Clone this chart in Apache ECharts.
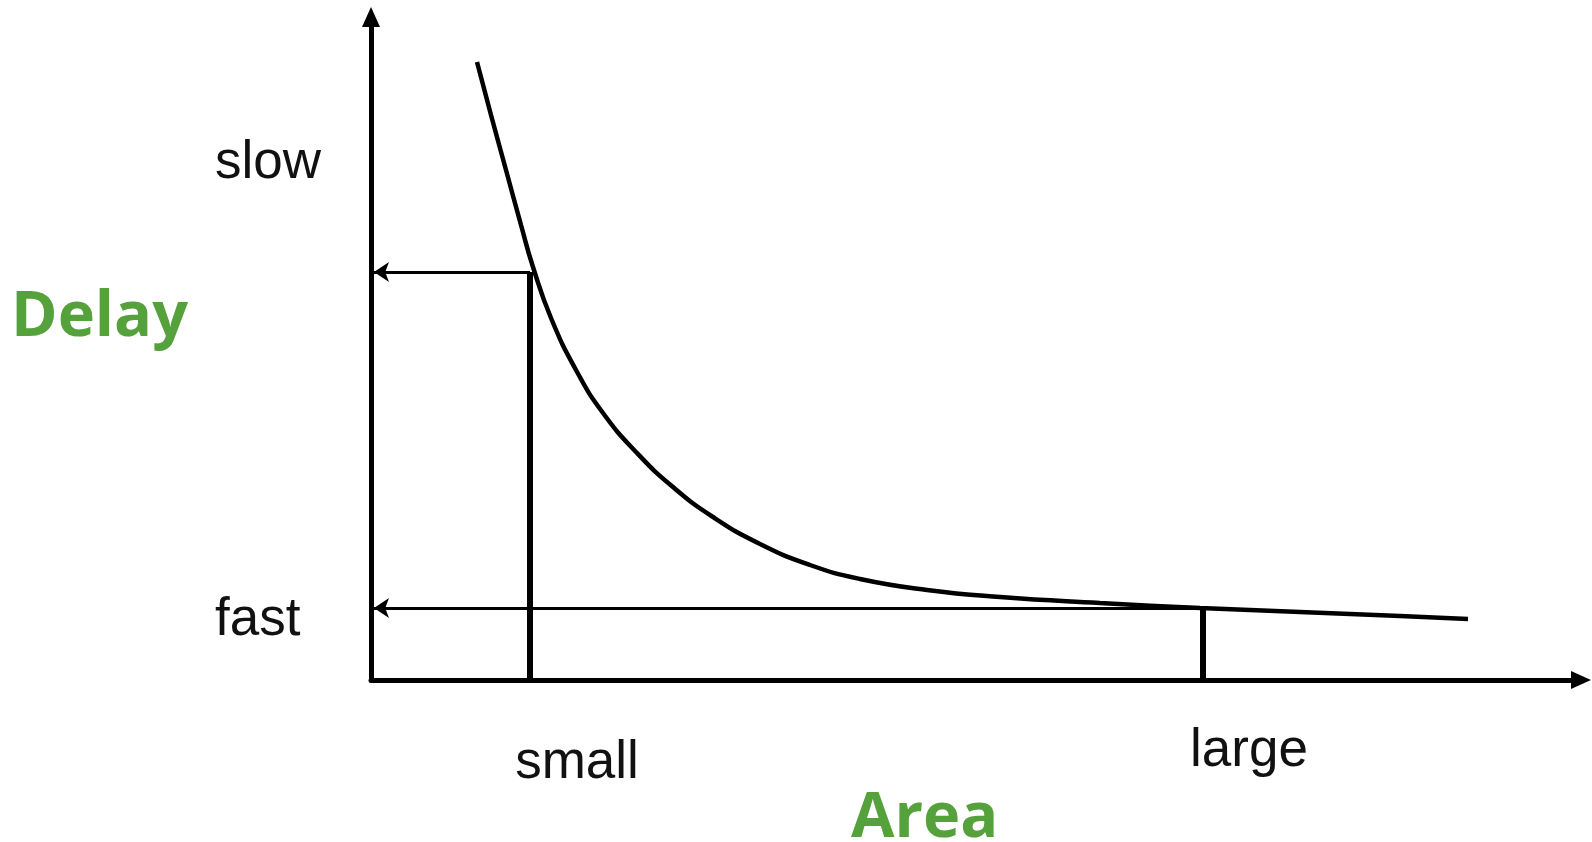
<!DOCTYPE html>
<html>
<head>
<meta charset="utf-8">
<title>Delay vs Area</title>
<script src="https://cdn.jsdelivr.net/npm/echarts@6/dist/echarts.min.js"></script>
<style>
  html, body { margin: 0; padding: 0; background: #fff; }
  #chart { width: 1592px; height: 842px; }
</style>
</head>
<body>
<div id="chart"></div>
<script>
// curve points (area -> delay)
const areaAt = [1.06, 1.20, 1.35, 1.50, 1.62, 1.80, 2.05, 2.32, 2.66, 3.02, 3.42, 3.89, 4.39, 4.89, 5.56, 6.29, 7.29, 8.29, 9.29, 10.29, 10.97];
const delayAt = [6.18, 5.65, 5.10, 4.55, 4.13, 3.62, 3.10, 2.67, 2.27, 1.93, 1.63, 1.36, 1.15, 1.01, 0.90, 0.83, 0.77, 0.72, 0.68, 0.64, 0.61];

// the two marked designs: small area / slow, large area / fast
const markArea = [1.59, 8.32];
const markDelay = [4.08, 0.72];

// tick labels
const xTickNames = ["small", "large"];
const xTickAt = [2.06, 8.78];
const yTickNames = ["fast", "slow"];
const yTickAt = [0.60, 5.17];

const green = "#55a13c";

const chart = echarts.init(document.getElementById("chart"));

const curve = areaAt.map((x, i) => [x, delayAt[i]]);

// vertical drops from the curve down to the x axis
const drops = markArea.map((x, i) => ({
  type: "line",
  data: [[x, 0], [x, markDelay[i]]],
  showSymbol: false,
  lineStyle: { color: "#000", width: 6, cap: "butt" },
  z: 3,
}));

// arrows back to the delay axis
const arrows = {
  type: "lines",
  coordinateSystem: "cartesian2d",
  data: markArea.map((x, i) => ({ coords: [[x, markDelay[i]], [0.03, markDelay[i]]] })),
  symbol: ["none", "arrow"],
  symbolSize: 15,
  lineStyle: { color: "#000", width: 3, opacity: 1, curveness: 0 },
  z: 3,
};

function pick(names, at, v) {
  let idx = 0;
  at.forEach((a, i) => {
    if (Math.abs(a - v) < Math.abs(at[idx] - v)) idx = i;
  });
  return names[idx];
}

const titleFont = { color: green, fontFamily: "Open Sans", fontWeight: "bold", fontSize: 63 };

const option = {
  animation: false,
  backgroundColor: "#fff",
  title: [
    { text: "Delay", left: 11, top: 287, padding: 0, textStyle: titleFont },
    { text: "Area", left: 851, top: 788, padding: 0, textStyle: titleFont },
  ],
  grid: { left: 371, right: 11, top: 17, bottom: 162 },
  xAxis: {
    type: "value",
    min: 0,
    max: 12.1,
    splitLine: { show: false },
    axisTick: { show: false },
    axisLine: {
      onZero: false,
      symbol: ["none", "triangle"],
      symbolSize: [18, 20],
      lineStyle: { color: "#000", width: 5 },
    },
    axisLabel: {
      customValues: xTickAt,
      margin: 45,
      formatter: (v) => {
        const name = pick(xTickNames, xTickAt, v);
        return "{" + (name === "small" ? "lo" : "hi") + "|" + name + "}";
      },
      rich: {
        lo: { fontFamily: "Liberation Sans", fontSize: 53, color: "#111", padding: [12, 0, 0, 0] },
        hi: { fontFamily: "Liberation Sans", fontSize: 53, color: "#111" },
      },
    },
  },
  yAxis: {
    type: "value",
    min: 0,
    max: 6.63,
    splitLine: { show: false },
    axisTick: { show: false },
    axisLine: {
      onZero: false,
      symbol: ["none", "triangle"],
      symbolSize: [18, 20],
      lineStyle: { color: "#000", width: 5 },
    },
    axisLabel: {
      customValues: yTickAt,
      margin: 156,
      align: "left",
      fontFamily: "Liberation Sans",
      fontSize: 53,
      color: "#111",
      formatter: (v) => pick(yTickNames, yTickAt, v),
    },
  },
  series: [
    {
      type: "line",
      data: curve,
      smooth: true,
      showSymbol: false,
      lineStyle: { color: "#000", width: 4.5 },
      z: 4,
    },
    ...drops,
    arrows,
  ],
};

chart.setOption(option);

window.addEventListener("resize", () => chart.resize());
</script>
</body>
</html>
